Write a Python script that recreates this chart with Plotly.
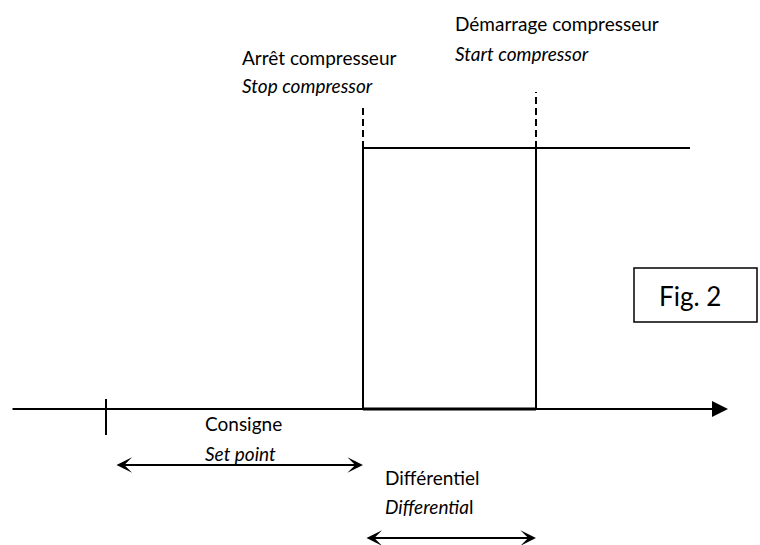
import plotly.graph_objects as go

# ---- diagram values (horizontal: temperature scale, vertical: compressor state) ----
set_point = 106        # set point position on the temperature axis
stop_point = 363       # compressor stops
start_point = 536      # compressor starts (stop + differential)
signal_end = 690
axis_start = 11
axis_end = 728
state_off = 0
state_on = 1

event_x = [stop_point, start_point]
labels_fr = ["Arrêt compresseur", "Démarrage compresseur"]
labels_en = ["Stop compressor", "Start compressor"]
range_labels_fr = ["Consigne", "Différentiel"]
range_labels_en = ["<i>Set point</i>", "<i>Differentia</i>l"]
fig_label = "Fig. 2"

W, H = 760, 545
Y_TOP, Y_BOT = 1.567, -0.521


def py(p):
    """pixel row -> y data value"""
    return Y_TOP - p * (Y_TOP - Y_BOT) / H


FONT = "Lato"
FS = 19
black = "#000000"

fig = go.Figure()

# signal (compressor state)
fig.add_trace(go.Scatter(x=[stop_point, stop_point, signal_end], y=[state_off, state_on, state_on],
                         mode="lines", line=dict(color=black, width=2), hoverinfo="skip"))
fig.add_trace(go.Scatter(x=[start_point, start_point], y=[state_off, state_on],
                         mode="lines", line=dict(color=black, width=2), hoverinfo="skip"))
fig.add_trace(go.Scatter(x=[stop_point, start_point], y=[state_off, state_off],
                         mode="lines", line=dict(color=black, width=3), hoverinfo="skip"))

# dashed event markers
dash_tops = [py(104), py(92)]
for xe, yt in zip(event_x, dash_tops):
    fig.add_trace(go.Scatter(x=[xe, xe], y=[state_on, yt], mode="lines",
                             line=dict(color=black, width=2, dash="7px,4px"), hoverinfo="skip"))

# set point tick
fig.add_trace(go.Scatter(x=[set_point, set_point], y=[py(399), py(435)], mode="lines",
                         line=dict(color=black, width=2), hoverinfo="skip"))

annotations = []
# main axis with arrow
annotations.append(dict(x=axis_end, y=state_off, ax=axis_start, ay=state_off,
                        xref="x", yref="y", axref="x", ayref="y", text="",
                        showarrow=True, arrowhead=2, arrowsize=1.6, arrowwidth=2,
                        arrowcolor=black, standoff=0, startstandoff=0))
# set point range arrow
annotations.append(dict(x=stop_point, y=py(465), ax=set_point + 9, ay=py(465),
                        xref="x", yref="y", axref="x", ayref="y", text="",
                        showarrow=True, arrowhead=3, startarrowhead=3, arrowside="end+start",
                        arrowsize=1.3, startarrowsize=1.3, arrowwidth=2, arrowcolor=black,
                        standoff=0, startstandoff=0))
# differential range arrow
annotations.append(dict(x=start_point, y=py(538), ax=stop_point + 2, ay=py(538),
                        xref="x", yref="y", axref="x", ayref="y", text="",
                        showarrow=True, arrowhead=3, startarrowhead=3, arrowside="end+start",
                        arrowsize=1.3, startarrowsize=1.3, arrowwidth=2, arrowcolor=black,
                        standoff=0, startstandoff=0))


def label(x, y, text, size=FS):
    annotations.append(dict(x=x, y=y, xref="x", yref="y", text=text, showarrow=False,
                            xanchor="left", yanchor="middle",
                            font=dict(family=FONT, size=size, color=black)))


label(240, py(57), labels_fr[0])
label(240, py(85), "<i>" + labels_en[0] + "</i>")
label(453, py(23), labels_fr[1])
label(453, py(53), "<i>" + labels_en[1] + "</i>")
label(203, py(423), range_labels_fr[0])
label(203, py(453), range_labels_en[0])
label(383, py(477), range_labels_fr[1])
label(383, py(506), range_labels_en[1])
label(657, py(296), fig_label, size=26)

fig.add_shape(type="rect", x0=634, x1=757, y0=py(268), y1=py(322), xref="x", yref="y",
              line=dict(color=black, width=1.5), fillcolor="rgba(0,0,0,0)")

fig.update_layout(
    width=W, height=H, margin=dict(l=0, r=0, t=0, b=0),
    paper_bgcolor="white", plot_bgcolor="white", showlegend=False,
    xaxis=dict(range=[0, W], visible=False, fixedrange=True),
    yaxis=dict(range=[Y_BOT, Y_TOP], visible=False, fixedrange=True),
    annotations=annotations,
)

fig.write_html("out.html", config={"displayModeBar": False},
               post_script="document.body.style.margin='0';document.body.style.overflow='hidden';")
